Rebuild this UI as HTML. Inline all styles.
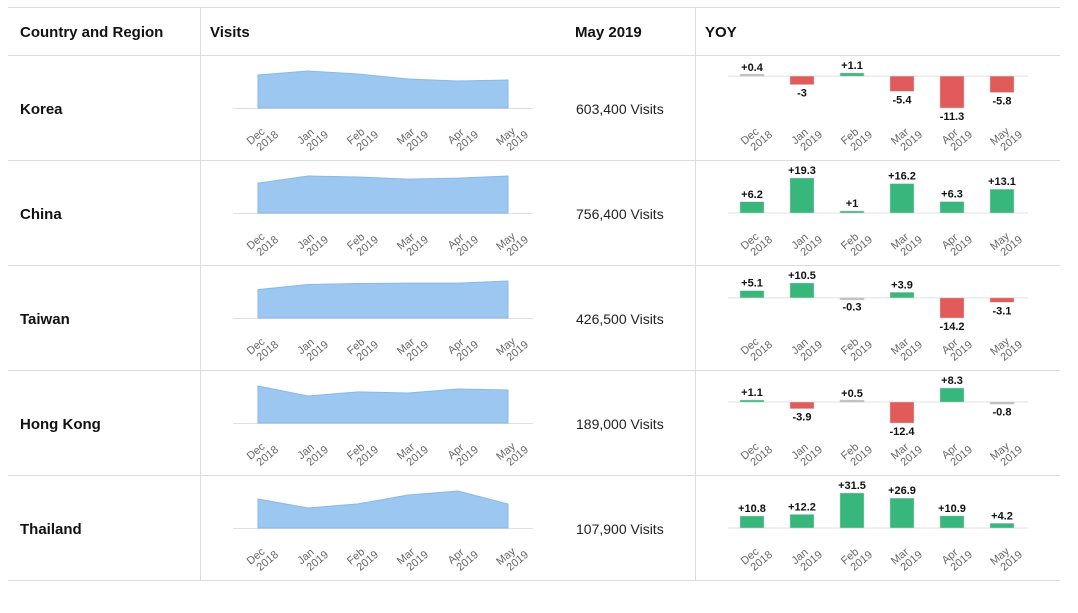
<!DOCTYPE html>
<html><head><meta charset="utf-8"><style>
body{margin:0;background:#fff;width:1078px;height:608px;overflow:hidden;font-family:"Liberation Sans",sans-serif}
svg text{font-family:"Liberation Sans",sans-serif}
</style></head><body>
<svg id="tbl" width="1078" height="608"></svg>
<script>
const regions=["Korea","China","Taiwan","Hong Kong","Thailand"];
const months=["Dec","Jan","Feb","Mar","Apr","May"];
const years=["2018","2019","2019","2019","2019","2019"];
const visitsKorea=[711,797,733,625,582,603.4];
const visitsChina=[609,756,735,693,714,756.4];
const visitsTaiwan=[327,386,397,402,402,426.5];
const visitsHongKong=[212,155,178,172,195,189];
const visitsThailand=[130,90,108,148,166,107.9];
const yoyKorea=[0.4,-3,1.1,-5.4,-11.3,-5.8];
const yoyChina=[6.2,19.3,1,16.2,6.3,13.1];
const yoyTaiwan=[5.1,10.5,-0.3,3.9,-14.2,-3.1];
const yoyHongKong=[1.1,-3.9,0.5,-12.4,8.3,-0.8];
const yoyThailand=[10.8,12.2,31.5,26.9,10.9,4.2];
const mayLabels=["603,400 Visits","756,400 Visits","426,500 Visits","189,000 Visits","107,900 Visits"];
const visits=[visitsKorea,visitsChina,visitsTaiwan,visitsHongKong,visitsThailand];
const yoys=[yoyKorea,yoyChina,yoyTaiwan,yoyHongKong,yoyThailand];

const NS="http://www.w3.org/2000/svg";
const svg=document.getElementById('tbl');
function mk(tag,attrs,parent){const e=document.createElementNS(NS,tag);for(const k in attrs)e.setAttribute(k,attrs[k]);(parent||svg).appendChild(e);return e;}
function txt(x,y,s,attrs,parent){const t=mk('text',Object.assign({x:x,y:y},attrs),parent);t.textContent=s;return t;}

// grid
[7,55,160,265,370,475,580].forEach(y=>{const l=mk('line',{x1:8,x2:1060,y1:y+.5,y2:y+.5,stroke:'#dcdcdc'});

});
[200,695].forEach(x=>{const l=mk('line',{x1:x+.5,x2:x+.5,y1:7,y2:580,stroke:'#dcdcdc'});

});
const hdr=[["Country and Region",20],["Visits",210],["May 2019",575],["YOY",705]];
hdr.forEach(h=>{const t=txt(h[1],37,h[0],{'font-size':15,'font-weight':'bold',fill:'#111'});

});

const sx=i=>258+i*50;
const yx=i=>752+i*50;
regions.forEach((r,ri)=>{
  const top=55+ri*105;
  const g=mk('g',{});
  
  
  const n=txt(20,top+59,r,{'font-size':15,'font-weight':'bold',fill:'#111'},g);
  
  
  const m=txt(576,top+59,mayLabels[ri],{'font-size':14,fill:'#222'},g);
  
  
  // sparkline area
  const v=visits[ri],mx=Math.max(...v),base=top+53;
  const sy=val=>base-val/mx*37;
  const bl=mk('line',{x1:233,x2:533,y1:base+.5,y2:base+.5,stroke:'#e0e0e0'},g);
  
  
  let d='M'+sx(0)+','+base;
  v.forEach((val,i)=>{d+=' L'+sx(i)+','+sy(val);});
  d+=' L'+sx(v.length-1)+','+base+' Z';
  const area=mk('path',{d:d,fill:'#9cc7f0',stroke:'#8ab8e8','stroke-width':1},g);
  
  
  // yoy
  const y=yoys[ri],lo=Math.min(0,...y),hi=Math.max(0,...y);
  const pt=top+18,ph=35;
  const yy=val=>pt+(hi-val)/(hi-lo)*ph;
  const zero=yy(0);
  const zl=mk('line',{x1:728,x2:1028,y1:zero,y2:zero,stroke:'#e0e0e0'},g);
  
  
  y.forEach((val,i)=>{
    const a=yy(Math.max(val,0)),b=yy(Math.min(val,0));
    const h=Math.max(b-a,2);
    const col=Math.abs(val)<1?'#bdbdbd':(val>0?'#37b77b':'#e15b5b');
    const rc=mk('rect',{x:yx(i)-12,y:val>=0?a-(h-(b-a)):a,width:24,height:h,fill:col,stroke:'#cfcfcf','stroke-width':0.5},g);
    
    
    const ly=val>=0?a-4:b+12;
    const lt=txt(yx(i),ly,(val>0?'+':'')+val,{'font-size':11,'font-weight':'bold','text-anchor':'middle',fill:'#111',stroke:'#fff','stroke-width':2,'paint-order':'stroke'},g);
    
    
  });
  // x labels
  months.forEach((mo,i)=>{
    [sx(i),yx(i)].forEach(cx=>{
      const t=mk('text',{transform:'translate('+cx+','+(top+84)+') rotate(-40)','font-size':11,fill:'#666','text-anchor':'middle'},g);
      
      
      const t1=mk('tspan',{x:0,y:0},t);t1.textContent=mo;
      const t2=mk('tspan',{x:6,y:11},t);t2.textContent=years[i];
    });
  });
});
</script>
</body></html>
